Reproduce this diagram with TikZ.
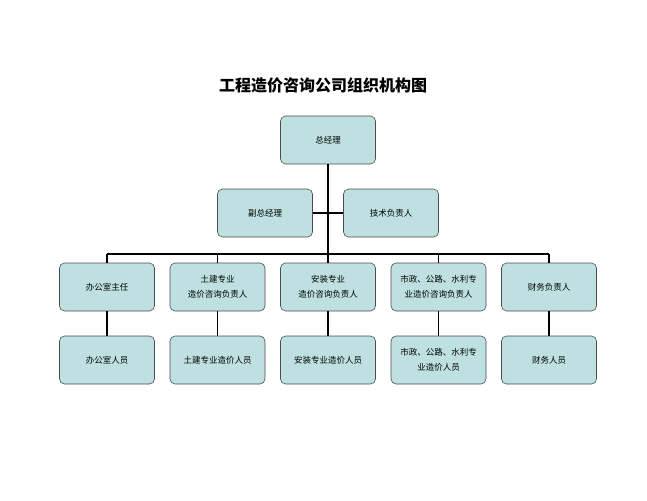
\documentclass[tikz,border=0pt]{standalone}
\usepackage{fontspec}
\setmainfont{Noto Sans CJK SC}
\begin{document}
\begin{tikzpicture}[x=1pt,y=-1pt,
  box/.style={draw=black!70,fill=boxc,rounded corners=5pt,minimum width=95pt,minimum height=48pt,inner sep=1pt,font=\fontsize{8.5}{15}\selectfont,align=center,line width=0.6pt},
  ln/.style={line width=1.4pt,black}]
\definecolor{boxc}{HTML}{BEE0E0}
\useasboundingbox (0,0) rectangle (647,500);
\node[font=\bfseries\fontsize{16}{18}\selectfont] (t) at (323,85) {工程造价咨询公司组织机构图};
\node[box] (gm) at (328,140) {总经理};
\node[box] (vp) at (265,213) {副总经理};
\node[box] (tech) at (391,213) {技术负责人};
\coordinate (bus) at (328,254);
\coordinate (j) at (328,213);
\foreach \i/\a/\b in {1/办公室主任/办公室人员,2/土建专业\\造价咨询负责人/土建专业造价人员,3/安装专业\\造价咨询负责人/安装专业造价人员,4/市政、公路、水利专\\业造价咨询负责人/市政、公路、水利专\\业造价人员,5/财务负责人/财务人员}{
  \node[box] (r\i) at ({107+110.5*(\i-1)},287) {\a};
  \node[box] (s\i) at ({107+110.5*(\i-1)},360) {\b};
  \coordinate (c\i) at ({107+110.5*(\i-1)},254);
  \draw[ln] (c\i) -- (r\i.north);
  \draw[ln] (r\i.south) -- (s\i.north);
}
\draw[ln] (gm.south) -- (bus);
\draw[ln] (vp.east) -- (tech.west);
\draw[ln] (c1) -- (c5);
\end{tikzpicture}
\end{document}
